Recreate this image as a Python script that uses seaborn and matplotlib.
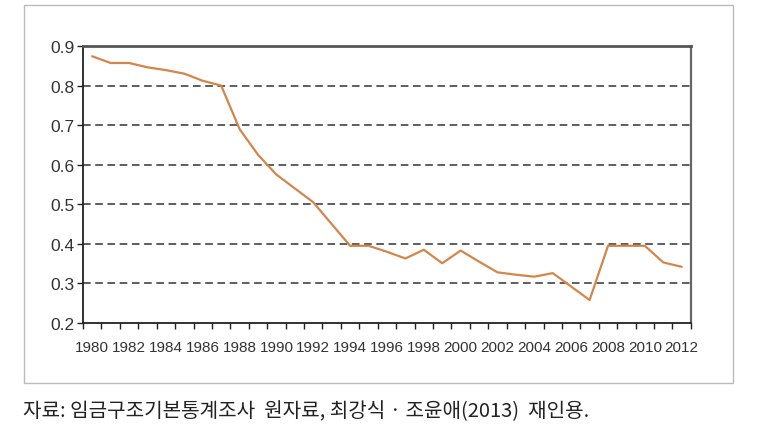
import numpy as np
import pandas as pd
import seaborn as sns
import matplotlib.pyplot as plt
from matplotlib.patches import Rectangle
from matplotlib.ticker import FixedLocator

sns.set_theme(style="white")
plt.rcParams['font.family'] = ['Liberation Sans', 'DejaVu Sans']

# Data
years = list(range(1980, 2013))
values = [0.874, 0.857, 0.857, 0.846, 0.839, 0.830, 0.812, 0.800, 0.690, 0.625,
          0.575, 0.540, 0.505, 0.450, 0.395, 0.395, 0.380, 0.363, 0.385, 0.351,
          0.383, 0.355, 0.328, 0.322, 0.317, 0.326, 0.292, 0.258, 0.395, 0.395,
          0.395, 0.353, 0.342]
year_labels = [str(y) for y in years[::2]]
y_ticks = [0.2, 0.3, 0.4, 0.5, 0.6, 0.7, 0.8, 0.9]
caption = "자료: 임금구조기본통계조사  원자료, 최강식 · 조윤애(2013)  재인용."

df = pd.DataFrame({"year": years, "value": values})

fig = plt.figure(figsize=(7.58, 4.39), dpi=100)
ax = fig.add_axes([0.1095, 0.262, 0.802, 0.631])

sns.lineplot(data=df, x="year", y="value", ax=ax, color="#D4864A", linewidth=1.6)

ax.set_xlim(years[0] - 0.5, years[-1] + 0.5)
ax.set_ylim(0.2, 0.9)
ax.set_xlabel("")
ax.set_ylabel("")

# x: labels at band centres, ticks at band boundaries
ax.set_xticks(years[::2])
ax.set_xticklabels(year_labels, fontsize=11, color="#333333")
ax.xaxis.set_minor_locator(FixedLocator(np.arange(years[0] - 0.5, years[-1] + 1, 1.0)))
ax.tick_params(axis="x", which="major", length=0, pad=12)
ax.tick_params(axis="x", which="minor", bottom=True, length=4, width=1, color="#222222", direction="out")

ax.set_yticks(y_ticks)
ax.set_yticklabels([f"{t:.1f}" for t in y_ticks], fontsize=12.5, color="#333333")
ax.tick_params(axis="y", which="major", left=True, length=4, width=1, color="#222222", direction="out", pad=2)

for t in y_ticks[1:-1]:
    ax.axhline(t, color="#333333", linewidth=1.1, linestyle=(0, (5, 3)), zorder=0)

for side in ["left", "bottom"]:
    ax.spines[side].set_color("#222222")
    ax.spines[side].set_linewidth(1.3)
ax.spines["top"].set_color("#555555")
ax.spines["top"].set_linewidth(2)
ax.spines["right"].set_color("#666666")
ax.spines["right"].set_linewidth(1.6)

# outer frame around the chart area
fig.patches.append(Rectangle((24 / 758, 1 - 384 / 439), (733 - 24) / 758, (384 - 6) / 439,
                             transform=fig.transFigure, fill=False,
                             edgecolor="#bbbbbb", linewidth=1))

fig.text(23 / 758, 1 - 412 / 439, caption, fontsize=14.5, color="#222222",
         family=["Noto Sans CJK KR", "DejaVu Sans"], va="center", ha="left")

fig.savefig("out.png", dpi=100)
